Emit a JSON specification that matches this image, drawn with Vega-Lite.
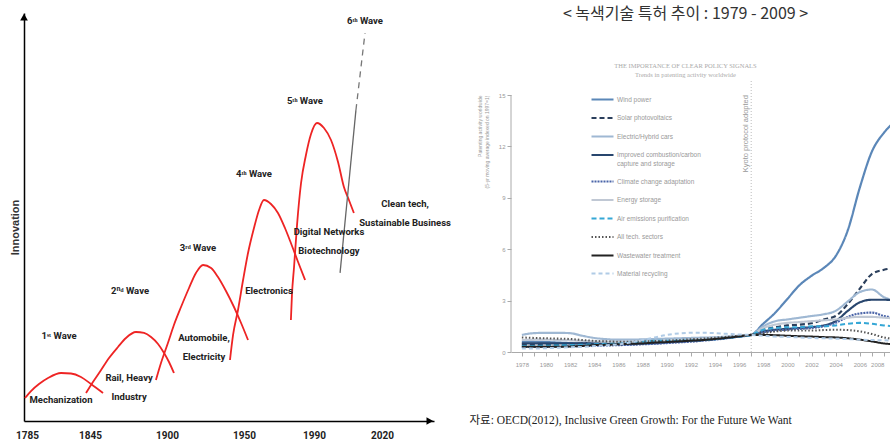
{
"$schema":"https://vega.github.io/schema/vega-lite/v6.json",
"padding":{"left":9,"top":6,"right":0,"bottom":0},
"spacing":18,
"background":"white",
"config":{"view":{"stroke":null},"font":"Liberation Sans"},
"datasets":{
"names":[{"k":"w","n":"Wind power"},{"k":"s","n":"Solar photovoltaics"},{"k":"e","n":"Electric/Hybrid cars"},{"k":"c","n":"Improved combustion/carbon capture and storage"},{"k":"a","n":"Climate change adaptation"},{"k":"g","n":"Energy storage"},{"k":"p","n":"Air emissions purification"},{"k":"t","n":"All tech. sectors"},{"k":"x","n":"Wastewater treatment"},{"k":"m","n":"Material recycling"}],
"pat":[
{"k":"w","t":1978,"v":0.6},{"k":"w","t":1979,"v":0.6},{"k":"w","t":1980,"v":0.58},{"k":"w","t":1981,"v":0.55},{"k":"w","t":1982,"v":0.52},{"k":"w","t":1983,"v":0.5},{"k":"w","t":1984,"v":0.5},{"k":"w","t":1985,"v":0.48},{"k":"w","t":1986,"v":0.45},{"k":"w","t":1987,"v":0.45},{"k":"w","t":1988,"v":0.48},{"k":"w","t":1989,"v":0.5},{"k":"w","t":1990,"v":0.55},{"k":"w","t":1991,"v":0.6},{"k":"w","t":1992,"v":0.65},{"k":"w","t":1993,"v":0.7},{"k":"w","t":1994,"v":0.75},{"k":"w","t":1995,"v":0.82},{"k":"w","t":1996,"v":0.9},{"k":"w","t":1997,"v":1.0},{"k":"w","t":1998,"v":1.65},{"k":"w","t":1999,"v":2.3},{"k":"w","t":2000,"v":3.1},{"k":"w","t":2001,"v":3.9},{"k":"w","t":2002,"v":4.45},{"k":"w","t":2003,"v":4.9},{"k":"w","t":2004,"v":5.6},{"k":"w","t":2005,"v":7.1},{"k":"w","t":2006,"v":9.6},{"k":"w","t":2007,"v":11.7},{"k":"w","t":2008,"v":12.8},{"k":"w","t":2009,"v":13.5},
{"k":"s","t":1978,"v":0.45},{"k":"s","t":1979,"v":0.45},{"k":"s","t":1980,"v":0.45},{"k":"s","t":1981,"v":0.45},{"k":"s","t":1982,"v":0.45},{"k":"s","t":1983,"v":0.5},{"k":"s","t":1984,"v":0.55},{"k":"s","t":1985,"v":0.6},{"k":"s","t":1986,"v":0.6},{"k":"s","t":1987,"v":0.55},{"k":"s","t":1988,"v":0.55},{"k":"s","t":1989,"v":0.55},{"k":"s","t":1990,"v":0.6},{"k":"s","t":1991,"v":0.62},{"k":"s","t":1992,"v":0.65},{"k":"s","t":1993,"v":0.7},{"k":"s","t":1994,"v":0.78},{"k":"s","t":1995,"v":0.85},{"k":"s","t":1996,"v":0.92},{"k":"s","t":1997,"v":1.0},{"k":"s","t":1998,"v":1.3},{"k":"s","t":1999,"v":1.45},{"k":"s","t":2000,"v":1.55},{"k":"s","t":2001,"v":1.6},{"k":"s","t":2002,"v":1.68},{"k":"s","t":2003,"v":1.9},{"k":"s","t":2004,"v":2.1},{"k":"s","t":2005,"v":2.8},{"k":"s","t":2006,"v":3.7},{"k":"s","t":2007,"v":4.55},{"k":"s","t":2008,"v":4.8},{"k":"s","t":2009,"v":4.9},
{"k":"e","t":1978,"v":1.0},{"k":"e","t":1979,"v":1.1},{"k":"e","t":1980,"v":1.12},{"k":"e","t":1981,"v":1.12},{"k":"e","t":1982,"v":1.1},{"k":"e","t":1983,"v":0.95},{"k":"e","t":1984,"v":0.82},{"k":"e","t":1985,"v":0.75},{"k":"e","t":1986,"v":0.72},{"k":"e","t":1987,"v":0.72},{"k":"e","t":1988,"v":0.74},{"k":"e","t":1989,"v":0.76},{"k":"e","t":1990,"v":0.78},{"k":"e","t":1991,"v":0.8},{"k":"e","t":1992,"v":0.82},{"k":"e","t":1993,"v":0.84},{"k":"e","t":1994,"v":0.86},{"k":"e","t":1995,"v":0.9},{"k":"e","t":1996,"v":0.95},{"k":"e","t":1997,"v":1.0},{"k":"e","t":1998,"v":1.5},{"k":"e","t":1999,"v":1.8},{"k":"e","t":2000,"v":1.9},{"k":"e","t":2001,"v":2.0},{"k":"e","t":2002,"v":2.1},{"k":"e","t":2003,"v":2.2},{"k":"e","t":2004,"v":2.4},{"k":"e","t":2005,"v":2.95},{"k":"e","t":2006,"v":3.5},{"k":"e","t":2007,"v":3.65},{"k":"e","t":2008,"v":3.2},{"k":"e","t":2009,"v":3.0},
{"k":"c","t":1978,"v":0.5},{"k":"c","t":1979,"v":0.5},{"k":"c","t":1980,"v":0.5},{"k":"c","t":1981,"v":0.5},{"k":"c","t":1982,"v":0.5},{"k":"c","t":1983,"v":0.5},{"k":"c","t":1984,"v":0.5},{"k":"c","t":1985,"v":0.48},{"k":"c","t":1986,"v":0.48},{"k":"c","t":1987,"v":0.5},{"k":"c","t":1988,"v":0.52},{"k":"c","t":1989,"v":0.55},{"k":"c","t":1990,"v":0.58},{"k":"c","t":1991,"v":0.62},{"k":"c","t":1992,"v":0.66},{"k":"c","t":1993,"v":0.7},{"k":"c","t":1994,"v":0.76},{"k":"c","t":1995,"v":0.83},{"k":"c","t":1996,"v":0.91},{"k":"c","t":1997,"v":1.0},{"k":"c","t":1998,"v":1.2},{"k":"c","t":1999,"v":1.3},{"k":"c","t":2000,"v":1.35},{"k":"c","t":2001,"v":1.4},{"k":"c","t":2002,"v":1.45},{"k":"c","t":2003,"v":1.55},{"k":"c","t":2004,"v":1.8},{"k":"c","t":2005,"v":2.4},{"k":"c","t":2006,"v":2.9},{"k":"c","t":2007,"v":3.05},{"k":"c","t":2008,"v":3.05},{"k":"c","t":2009,"v":3.0},
{"k":"a","t":1978,"v":0.3},{"k":"a","t":1979,"v":0.3},{"k":"a","t":1980,"v":0.3},{"k":"a","t":1981,"v":0.32},{"k":"a","t":1982,"v":0.33},{"k":"a","t":1983,"v":0.35},{"k":"a","t":1984,"v":0.36},{"k":"a","t":1985,"v":0.38},{"k":"a","t":1986,"v":0.4},{"k":"a","t":1987,"v":0.42},{"k":"a","t":1988,"v":0.45},{"k":"a","t":1989,"v":0.48},{"k":"a","t":1990,"v":0.52},{"k":"a","t":1991,"v":0.56},{"k":"a","t":1992,"v":0.6},{"k":"a","t":1993,"v":0.66},{"k":"a","t":1994,"v":0.72},{"k":"a","t":1995,"v":0.8},{"k":"a","t":1996,"v":0.9},{"k":"a","t":1997,"v":1.0},{"k":"a","t":1998,"v":1.15},{"k":"a","t":1999,"v":1.25},{"k":"a","t":2000,"v":1.3},{"k":"a","t":2001,"v":1.35},{"k":"a","t":2002,"v":1.4},{"k":"a","t":2003,"v":1.5},{"k":"a","t":2004,"v":1.7},{"k":"a","t":2005,"v":2.05},{"k":"a","t":2006,"v":2.25},{"k":"a","t":2007,"v":2.3},{"k":"a","t":2008,"v":2.1},{"k":"a","t":2009,"v":2.0},
{"k":"g","t":1978,"v":0.7},{"k":"g","t":1979,"v":0.72},{"k":"g","t":1980,"v":0.72},{"k":"g","t":1981,"v":0.7},{"k":"g","t":1982,"v":0.68},{"k":"g","t":1983,"v":0.65},{"k":"g","t":1984,"v":0.62},{"k":"g","t":1985,"v":0.6},{"k":"g","t":1986,"v":0.58},{"k":"g","t":1987,"v":0.58},{"k":"g","t":1988,"v":0.6},{"k":"g","t":1989,"v":0.62},{"k":"g","t":1990,"v":0.65},{"k":"g","t":1991,"v":0.68},{"k":"g","t":1992,"v":0.72},{"k":"g","t":1993,"v":0.76},{"k":"g","t":1994,"v":0.8},{"k":"g","t":1995,"v":0.86},{"k":"g","t":1996,"v":0.93},{"k":"g","t":1997,"v":1.0},{"k":"g","t":1998,"v":1.4},{"k":"g","t":1999,"v":1.6},{"k":"g","t":2000,"v":1.7},{"k":"g","t":2001,"v":1.75},{"k":"g","t":2002,"v":1.8},{"k":"g","t":2003,"v":1.85},{"k":"g","t":2004,"v":1.9},{"k":"g","t":2005,"v":2.0},{"k":"g","t":2006,"v":2.05},{"k":"g","t":2007,"v":2.05},{"k":"g","t":2008,"v":2.0},{"k":"g","t":2009,"v":1.95},
{"k":"p","t":1978,"v":0.35},{"k":"p","t":1979,"v":0.35},{"k":"p","t":1980,"v":0.36},{"k":"p","t":1981,"v":0.38},{"k":"p","t":1982,"v":0.4},{"k":"p","t":1983,"v":0.42},{"k":"p","t":1984,"v":0.45},{"k":"p","t":1985,"v":0.48},{"k":"p","t":1986,"v":0.5},{"k":"p","t":1987,"v":0.55},{"k":"p","t":1988,"v":0.6},{"k":"p","t":1989,"v":0.65},{"k":"p","t":1990,"v":0.65},{"k":"p","t":1991,"v":0.66},{"k":"p","t":1992,"v":0.68},{"k":"p","t":1993,"v":0.7},{"k":"p","t":1994,"v":0.75},{"k":"p","t":1995,"v":0.82},{"k":"p","t":1996,"v":0.9},{"k":"p","t":1997,"v":1.0},{"k":"p","t":1998,"v":1.3},{"k":"p","t":1999,"v":1.4},{"k":"p","t":2000,"v":1.45},{"k":"p","t":2001,"v":1.45},{"k":"p","t":2002,"v":1.5},{"k":"p","t":2003,"v":1.5},{"k":"p","t":2004,"v":1.55},{"k":"p","t":2005,"v":1.65},{"k":"p","t":2006,"v":1.7},{"k":"p","t":2007,"v":1.65},{"k":"p","t":2008,"v":1.55},{"k":"p","t":2009,"v":1.5},
{"k":"t","t":1978,"v":0.85},{"k":"t","t":1979,"v":0.82},{"k":"t","t":1980,"v":0.8},{"k":"t","t":1981,"v":0.78},{"k":"t","t":1982,"v":0.76},{"k":"t","t":1983,"v":0.7},{"k":"t","t":1984,"v":0.65},{"k":"t","t":1985,"v":0.62},{"k":"t","t":1986,"v":0.6},{"k":"t","t":1987,"v":0.6},{"k":"t","t":1988,"v":0.62},{"k":"t","t":1989,"v":0.64},{"k":"t","t":1990,"v":0.66},{"k":"t","t":1991,"v":0.7},{"k":"t","t":1992,"v":0.74},{"k":"t","t":1993,"v":0.78},{"k":"t","t":1994,"v":0.83},{"k":"t","t":1995,"v":0.88},{"k":"t","t":1996,"v":0.94},{"k":"t","t":1997,"v":1.0},{"k":"t","t":1998,"v":1.1},{"k":"t","t":1999,"v":1.2},{"k":"t","t":2000,"v":1.25},{"k":"t","t":2001,"v":1.25},{"k":"t","t":2002,"v":1.25},{"k":"t","t":2003,"v":1.28},{"k":"t","t":2004,"v":1.3},{"k":"t","t":2005,"v":1.28},{"k":"t","t":2006,"v":1.2},{"k":"t","t":2007,"v":1.05},{"k":"t","t":2008,"v":0.85},{"k":"t","t":2009,"v":0.75},
{"k":"x","t":1978,"v":0.3},{"k":"x","t":1979,"v":0.3},{"k":"x","t":1980,"v":0.3},{"k":"x","t":1981,"v":0.3},{"k":"x","t":1982,"v":0.32},{"k":"x","t":1983,"v":0.35},{"k":"x","t":1984,"v":0.4},{"k":"x","t":1985,"v":0.42},{"k":"x","t":1986,"v":0.45},{"k":"x","t":1987,"v":0.48},{"k":"x","t":1988,"v":0.5},{"k":"x","t":1989,"v":0.55},{"k":"x","t":1990,"v":0.58},{"k":"x","t":1991,"v":0.62},{"k":"x","t":1992,"v":0.66},{"k":"x","t":1993,"v":0.7},{"k":"x","t":1994,"v":0.76},{"k":"x","t":1995,"v":0.83},{"k":"x","t":1996,"v":0.91},{"k":"x","t":1997,"v":1.0},{"k":"x","t":1998,"v":1.0},{"k":"x","t":1999,"v":0.98},{"k":"x","t":2000,"v":0.95},{"k":"x","t":2001,"v":0.92},{"k":"x","t":2002,"v":0.9},{"k":"x","t":2003,"v":0.87},{"k":"x","t":2004,"v":0.85},{"k":"x","t":2005,"v":0.8},{"k":"x","t":2006,"v":0.72},{"k":"x","t":2007,"v":0.62},{"k":"x","t":2008,"v":0.5},{"k":"x","t":2009,"v":0.45},
{"k":"m","t":1978,"v":0.2},{"k":"m","t":1979,"v":0.2},{"k":"m","t":1980,"v":0.22},{"k":"m","t":1981,"v":0.25},{"k":"m","t":1982,"v":0.28},{"k":"m","t":1983,"v":0.3},{"k":"m","t":1984,"v":0.35},{"k":"m","t":1985,"v":0.4},{"k":"m","t":1986,"v":0.45},{"k":"m","t":1987,"v":0.55},{"k":"m","t":1988,"v":0.7},{"k":"m","t":1989,"v":0.85},{"k":"m","t":1990,"v":1.0},{"k":"m","t":1991,"v":1.08},{"k":"m","t":1992,"v":1.12},{"k":"m","t":1993,"v":1.12},{"k":"m","t":1994,"v":1.1},{"k":"m","t":1995,"v":1.06},{"k":"m","t":1996,"v":1.02},{"k":"m","t":1997,"v":1.0},{"k":"m","t":1998,"v":0.95},{"k":"m","t":1999,"v":0.9},{"k":"m","t":2000,"v":0.88},{"k":"m","t":2001,"v":0.85},{"k":"m","t":2002,"v":0.82},{"k":"m","t":2003,"v":0.8},{"k":"m","t":2004,"v":0.78},{"k":"m","t":2005,"v":0.75},{"k":"m","t":2006,"v":0.72},{"k":"m","t":2007,"v":0.7},{"k":"m","t":2008,"v":0.68},{"k":"m","t":2009,"v":0.65}
]},
"hconcat":[
{
"width":410,"height":408,
"encoding":{
"x":{"field":"year","type":"quantitative","scale":{"domain":[1782.1,1845,1900,1950,1990,2020,2045],"range":[0,66,143,220,290,358,410],"nice":false,"zero":false},
"axis":{"values":[1785,1845,1900,1950,1990,2020],"tickCount":20,"format":"d","title":null,"grid":false,"ticks":false,"labelFont":"Roboto","labelFontSize":10,"labelFontWeight":"bold","labelColor":"#222","labelPadding":9,"domainColor":"#000","domainWidth":1.5,"labelOverlap":false,"labelFlush":false}},
"y":{"field":"v","type":"quantitative","scale":{"domain":[0,100],"nice":false},
"axis":{"title":"Innovation","titleY":214,"labels":false,"ticks":false,"grid":false,"domainColor":"#000","domainWidth":1.5,"titleFont":"Liberation Sans","titleFontSize":11,"titleFontWeight":"bold","titleColor":"#333","titlePadding":4}}
},
"layer":[
{"data":{"values":[
{"w":1,"year":1783.05,"v":5.64},{"w":1,"year":1788.77,"v":7.35},{"w":1,"year":1796.4,"v":9.07},{"w":1,"year":1805.0,"v":10.54},{"w":1,"year":1817.4,"v":11.76},{"w":1,"year":1826.9,"v":11.64},{"w":1,"year":1836.4,"v":10.78},{"w":1,"year":1845.7,"v":9.07},{"w":1,"year":1854.3,"v":6.86},
{"w":2,"year":1841.2,"v":6.86},{"w":2,"year":1847.1,"v":9.56},{"w":2,"year":1852.9,"v":12.5},{"w":2,"year":1858.6,"v":15.44},{"w":2,"year":1865.0,"v":18.14},{"w":2,"year":1870.7,"v":20.34},{"w":2,"year":1877.8,"v":21.81},{"w":2,"year":1883.6,"v":21.57},{"w":2,"year":1888.6,"v":20.59},{"w":2,"year":1893.6,"v":18.87},{"w":2,"year":1897.9,"v":16.67},{"w":2,"year":1901.3,"v":14.46},{"w":2,"year":1904.5,"v":11.76},
{"w":3,"year":1892.1,"v":10.05},{"w":3,"year":1895.7,"v":14.22},{"w":3,"year":1900.6,"v":19.12},{"w":3,"year":1904.5,"v":23.53},{"w":3,"year":1909.1,"v":27.94},{"w":3,"year":1914.3,"v":32.6},{"w":3,"year":1918.8,"v":36.27},{"w":3,"year":1923.4,"v":38.24},{"w":3,"year":1928.6,"v":37.5},{"w":3,"year":1933.1,"v":35.29},{"w":3,"year":1938.3,"v":31.86},{"w":3,"year":1943.5,"v":27.94},{"w":3,"year":1948.1,"v":24.02},{"w":3,"year":1952.3,"v":19.85},
{"w":4,"year":1940.9,"v":14.95},{"w":4,"year":1942.9,"v":21.08},{"w":4,"year":1946.1,"v":27.21},{"w":4,"year":1949.4,"v":34.56},{"w":4,"year":1952.3,"v":41.18},{"w":4,"year":1955.7,"v":47.3},{"w":4,"year":1958.6,"v":51.72},{"w":4,"year":1961.4,"v":54.17},{"w":4,"year":1965.4,"v":53.19},{"w":4,"year":1969.4,"v":50.98},{"w":4,"year":1973.4,"v":47.3},{"w":4,"year":1976.8,"v":43.63},{"w":4,"year":1980.9,"v":38.97},{"w":4,"year":1984.9,"v":34.56},
{"w":5,"year":1976.8,"v":24.75},{"w":5,"year":1977.4,"v":30.88},{"w":5,"year":1978.6,"v":37.75},{"w":5,"year":1980.3,"v":48.04},{"w":5,"year":1982.6,"v":58.33},{"w":5,"year":1985.4,"v":65.2},{"w":5,"year":1988.3,"v":70.34},{"w":5,"year":1991.3,"v":73.04},{"w":5,"year":1994.4,"v":71.81},{"w":5,"year":1997.5,"v":68.87},{"w":5,"year":2000.6,"v":63.48},{"w":5,"year":2003.2,"v":57.35},{"w":5,"year":2005.4,"v":54.17},{"w":5,"year":2007.6,"v":50.98}
]},
"mark":{"type":"line","color":"#ee2424","strokeWidth":1.8,"interpolate":"monotone"},
"encoding":{"detail":{"field":"w","type":"nominal"}}},
{"data":{"values":[{"year":2001.5,"v":36.3},{"year":2008.5,"v":76.2}]},
"mark":{"type":"line","color":"#666","strokeWidth":1.3}},
{"data":{"values":[{"year":2008.5,"v":76.2},{"year":2012.5,"v":95.1}]},
"mark":{"type":"line","color":"#777","strokeWidth":1.3,"strokeDash":[6,5]}},
{"data":{"values":[{"shape":"triangle-up","year":1782.1,"v":99},{"shape":"triangle-right","year":2043,"v":0}]},
"mark":{"type":"point","filled":true,"color":"#000","size":60,"opacity":1},
"encoding":{"shape":{"field":"shape","type":"nominal","scale":null}}},
{"data":{"values":[
{"t":"1ˢᵗ Wave","year":1815.5,"v":20.8},
{"t":"Mechanization","year":1817.4,"v":5.15},
{"t":"2ⁿᵈ Wave","year":1873.6,"v":31.9},
{"t":"Rail, Heavy\nIndustry","year":1872.9,"v":10.5},
{"t":"3ʳᵈ Wave","year":1920.1,"v":42.4},
{"t":"Automobile,\nElectricity","year":1924.0,"v":20.3},
{"t":"4ᵗʰ Wave","year":1955.7,"v":60.5},
{"t":"Electronics","year":1964.3,"v":31.9},
{"t":"5ᵗʰ Wave","year":1984.8,"v":78.4},
{"t":"Digital Networks\nBiotechnology","year":1996.6,"v":46.4},
{"t":"6ᵗʰ Wave","year":2012.5,"v":98.0},
{"t":"Clean tech,\nSustainable Business","year":2031.1,"v":53.3}
]},
"mark":{"type":"text","font":"Roboto","fontSize":9.5,"fontWeight":"bold","color":"#222","lineBreak":"\n","lineHeight":19,"align":"center","baseline":"middle"},
"encoding":{"text":{"field":"t"}}}
]
},
{
"width":379,"height":339,
"title":{"text":"< 녹색기술 특허 추이 : 1979 - 2009 >","subtitle":["THE IMPORTANCE OF CLEAR POLICY SIGNALS","Trends in patenting activity worldwide"],"font":"Noto Sans CJK KR","fontSize":16,"fontWeight":"normal","color":"#333","subtitleFont":"Liberation Serif","subtitleFontSize":6.5,"subtitleColor":"#aaa","subtitleLineHeight":9,"subtitlePadding":41,"offset":-65.5,"anchor":"middle","dx":-15},
"layer":[
{"data":{"name":"pat"},
"transform":[{"lookup":"k","from":{"data":{"name":"names"},"key":"k","fields":["n"]}}],
"mark":{"type":"line","interpolate":"monotone","clip":true},
"encoding":{
"x":{"field":"t","type":"quantitative","scale":{"domain":[1977.1,2008.5],"nice":false,"zero":false},
"axis":{"values":[1978,1979,1980,1981,1982,1983,1984,1985,1986,1987,1988,1989,1990,1991,1992,1993,1994,1995,1996,1997,1998,1999,2000,2001,2002,2003,2004,2005,2006,2007,2008],"tickCount":100,"labelExpr":"datum.value % 2 == 0 ? datum.value : ''","title":"자료: OECD(2012), Inclusive Green Growth: For the Future We Want","titleX":-42,"titleY":68,"titleAlign":"left","titleAnchor":"start","titleBaseline":"middle","titleFont":"Liberation Serif, Noto Sans CJK KR","titleFontSize":11.5,"titleFontWeight":"normal","titleColor":"#222","grid":false,"tickSize":4,"tickColor":"#aaa","domainColor":"#aaa","labelFont":"Liberation Sans","labelFontSize":6,"labelColor":"#999","labelPadding":5,"labelFlush":7,"labelOverlap":false}},
"y":{"field":"v","type":"quantitative","scale":{"domain":[0,19.79],"nice":false},
"axis":{"values":[0,3,6,9,12,15],"format":"d","domain":false,"title":["Patenting activity worldwide","(5-yr moving average indexed on 1997=1)"],"titleY":82,"titleAlign":"right","titleAnchor":"end","titleFontSize":5,"titleFont":"Liberation Sans","titleColor":"#999","titleFontWeight":"normal","titlePadding":9,"titleLineHeight":7,"grid":false,"tickSize":4,"tickColor":"#aaa","labelFont":"Liberation Sans","labelFontSize":6,"labelColor":"#999","labelPadding":2}},
"color":{"field":"n","type":"nominal","scale":{"domain":["Wind power","Solar photovoltaics","Electric/Hybrid cars","Improved combustion/carbon capture and storage","Climate change adaptation","Energy storage","Air emissions purification","All tech. sectors","Wastewater treatment","Material recycling"],"range":["#5b87b8","#2b3f5c","#9fb8d3","#28466e","#4a64a8","#c0c8d4","#35a7d6","#555555","#222222","#b0cbe6"]},
"legend":{"orient":"none","legendX":566,"legendY":74,"title":null,"symbolType":"stroke","symbolSize":484,"labelFont":"Liberation Sans","labelFontSize":6.5,"labelColor":"#999","labelOffset":2,"labelLimit":300,"rowPadding":1.5,"labelExpr":"datum.label == 'Improved combustion/carbon capture and storage' ? ['Improved combustion/carbon', 'capture and storage'] : datum.label"}},
"strokeDash":{"field":"n","type":"nominal","scale":{"domain":["Wind power","Solar photovoltaics","Electric/Hybrid cars","Improved combustion/carbon capture and storage","Climate change adaptation","Energy storage","Air emissions purification","All tech. sectors","Wastewater treatment","Material recycling"],"range":[[1,0],[5,3],[1,0],[1,0],[2,1],[1,0],[5,3],[1.5,2],[1,0],[4,3]]},
"legend":{"orient":"none","legendX":566,"legendY":74,"title":null,"symbolType":"stroke","symbolSize":484,"labelFont":"Liberation Sans","labelFontSize":6.5,"labelColor":"#999","labelOffset":2,"labelLimit":300,"rowPadding":1.5,"labelExpr":"datum.label == 'Improved combustion/carbon capture and storage' ? ['Improved combustion/carbon', 'capture and storage'] : datum.label"}},
"strokeWidth":{"field":"n","type":"nominal","scale":{"domain":["Wind power","Solar photovoltaics","Electric/Hybrid cars","Improved combustion/carbon capture and storage","Climate change adaptation","Energy storage","Air emissions purification","All tech. sectors","Wastewater treatment","Material recycling"],"range":[2.2,2,2,2.5,2,2,2,2,3.5,2]},
"legend":{"orient":"none","legendX":566,"legendY":74,"title":null,"symbolType":"stroke","symbolSize":484,"labelFont":"Liberation Sans","labelFontSize":6.5,"labelColor":"#999","labelOffset":2,"labelLimit":300,"rowPadding":1.5,"labelExpr":"datum.label == 'Improved combustion/carbon capture and storage' ? ['Improved combustion/carbon', 'capture and storage'] : datum.label"}}
}},
{"data":{"values":[{"t":1977.1,"v":0,"v2":15}]},
"mark":{"type":"rule","color":"#aaa","strokeWidth":1},
"encoding":{"x":{"field":"t","type":"quantitative"},"y":{"field":"v","type":"quantitative"},"y2":{"field":"v2"}}},
{"data":{"values":[{"t":1997,"v":0,"v2":15.9}]},
"mark":{"type":"rule","color":"#bbb","strokeDash":[1,2],"strokeWidth":1},
"encoding":{"x":{"field":"t","type":"quantitative"},"y":{"field":"v","type":"quantitative"},"y2":{"field":"v2"}}},
{"data":{"values":[{"t":1997,"v":15,"txt":"Kyoto protocol adopted"}]},
"mark":{"type":"text","angle":270,"align":"right","baseline":"bottom","fontSize":7.5,"color":"#999","dy":-1},
"encoding":{"x":{"field":"t","type":"quantitative"},"y":{"field":"v","type":"quantitative"},"text":{"field":"txt"}}}
]
}
]
}
